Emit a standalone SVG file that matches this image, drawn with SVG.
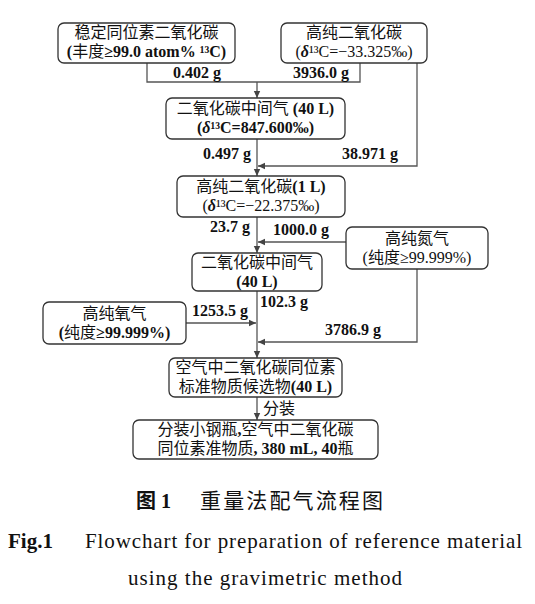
<svg xmlns="http://www.w3.org/2000/svg" width="535" height="604" viewBox="0 0 535 604">
<defs>
<style>
.box{fill:#fff;stroke:#333;stroke-width:1.3}
.ln{fill:none;stroke:#555;stroke-width:1.3}
text{font-family:"Liberation Serif","Noto Sans CJK SC",serif;fill:#111}
.t{font-size:16px;text-anchor:middle}
.b{font-weight:bold}
.i{font-style:italic}
.zh{font-weight:normal}
.lb{font-size:16px;font-weight:bold}
</style>
<marker id="ah" markerUnits="userSpaceOnUse" markerWidth="8" markerHeight="8" refX="7" refY="4" orient="auto"><path d="M0,0.8 L7,4 L0,7.2 Z" fill="#444"/></marker>
</defs>
<rect width="535" height="604" fill="#fff"/>
<g id="connectors">
<path class="ln" d="M147,63 V82 H360 V63"/>
<path class="ln" d="M257,82 V98" marker-end="url(#ah)"/>
<path class="ln" d="M417,63 V166 H258" marker-end="url(#ah)"/>
<path class="ln" d="M257,139 V176" marker-end="url(#ah)"/>
<path class="ln" d="M347,242 H258" marker-end="url(#ah)"/>
<path class="ln" d="M257,217 V253" marker-end="url(#ah)"/>
<path class="ln" d="M417,269 V342 H258" marker-end="url(#ah)"/>
<path class="ln" d="M186,323 H256" marker-end="url(#ah)"/>
<path class="ln" d="M257,291 V358" marker-end="url(#ah)"/>
<path class="ln" d="M257,397 V420" marker-end="url(#ah)"/>
<text class="lb" x="173" y="78">0.402 g</text>
<text class="lb" x="293" y="78">3936.0 g</text>
<text class="lb" x="203" y="159">0.497 g</text>
<text class="lb" x="342" y="159">38.971 g</text>
<text class="lb" x="210" y="232">23.7 g</text>
<text class="lb" x="273" y="235">1000.0 g</text>
<text class="lb" x="192" y="316">1253.5 g</text>
<text class="lb" x="260" y="307">102.3 g</text>
<text class="lb" x="325" y="335">3786.9 g</text>
<text class="zh" x="263" y="414" font-size="16">分装</text>
</g>
<g id="n1">
<rect class="box" x="58" y="23" width="177" height="40" rx="6"/>
<text class="t"><tspan x="146.5" y="38" class="zh">稳定同位素二氧化碳</tspan><tspan x="146.5" y="57"><tspan class="b">(</tspan><tspan class="zh">丰度</tspan><tspan class="b">≥99.0 atom% ¹³C)</tspan></tspan></text>
</g>
<g id="n2">
<rect class="box" x="281" y="23" width="146" height="40" rx="6"/>
<text class="t"><tspan x="354" y="38" class="zh">高纯二氧化碳</tspan><tspan x="354" y="57">(<tspan class="i b">δ</tspan>¹³C=−33.325‰)</tspan></text>
</g>
<g id="n3">
<rect class="box" x="166" y="98" width="179" height="41" rx="6"/>
<text class="t"><tspan x="255.5" y="114"><tspan class="zh">二氧化碳中间气</tspan><tspan class="b"> (40 L)</tspan></tspan><tspan x="255.5" y="133" class="b">(<tspan class="i">δ</tspan>¹³C=847.600‰)</tspan></text>
</g>
<g id="n4">
<rect class="box" x="177" y="176" width="168" height="41" rx="6"/>
<text class="t"><tspan x="261" y="192"><tspan class="zh">高纯二氧化碳</tspan><tspan class="b">(1 L)</tspan></tspan><tspan x="261" y="211">(<tspan class="i b">δ</tspan>¹³C=−22.375‰)</tspan></text>
</g>
<g id="n5">
<rect class="box" x="346" y="227" width="142" height="42" rx="6"/>
<text class="t"><tspan x="417" y="244" class="zh">高纯氮气</tspan><tspan x="417" y="263">(<tspan class="zh">纯度</tspan>≥99.999%)</tspan></text>
</g>
<g id="n6">
<rect class="box" x="192" y="253" width="130" height="38" rx="6"/>
<text class="t"><tspan x="257" y="268" class="zh">二氧化碳中间气</tspan><tspan x="257" y="287" class="b">(40 L)</tspan></text>
</g>
<g id="n7">
<rect class="box" x="43" y="302" width="143" height="42" rx="6"/>
<text class="t"><tspan x="114.5" y="319" class="zh">高纯氧气</tspan><tspan x="114.5" y="338"><tspan class="b">(</tspan><tspan class="zh">纯度</tspan><tspan class="b">≥99.999%)</tspan></tspan></text>
</g>
<g id="n8">
<rect class="box" x="169" y="358" width="173" height="39" rx="6"/>
<text class="t"><tspan x="255.5" y="373" class="zh">空气中二氧化碳同位素</tspan><tspan x="255.5" y="392"><tspan class="zh">标准物质候选物</tspan><tspan class="b">(40 L)</tspan></tspan></text>
</g>
<g id="n9">
<rect class="box" x="133" y="420" width="245" height="39" rx="6"/>
<text class="t"><tspan x="255.5" y="435"><tspan class="zh">分装小钢瓶</tspan><tspan class="b">,</tspan><tspan class="zh">空气中二氧化碳</tspan></tspan><tspan x="255.5" y="454"><tspan class="zh">同位素准物质</tspan><tspan class="b">, 380 mL, 40</tspan><tspan class="zh">瓶</tspan></tspan></text>
</g>
<g id="caption">
<text x="136" y="508" font-size="20"><tspan font-family="Noto Sans CJK SC" font-weight="bold">图</tspan><tspan font-weight="bold"> 1</tspan></text>
<text x="200" y="508" font-size="21" font-family="Noto Sans CJK SC" textLength="183" lengthAdjust="spacing">重量法配气流程图</text>
<text x="8" y="548" font-size="21" font-weight="bold">Fig.1</text>
<text x="85" y="548" font-size="21" textLength="437" lengthAdjust="spacing">Flowchart for preparation of reference material</text>
<text x="128" y="585" font-size="21" textLength="274" lengthAdjust="spacing">using the gravimetric method</text>
</g>
</svg>
